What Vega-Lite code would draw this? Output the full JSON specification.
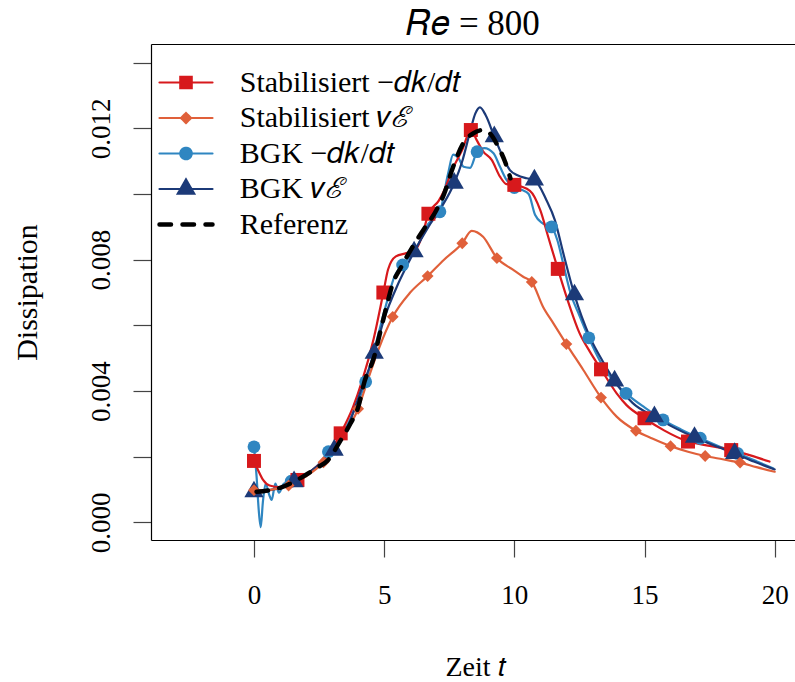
{
  "$schema": "https://vega.github.io/schema/vega-lite/v6.json",
  "width": 644,
  "height": 496,
  "autosize": {"type": "none"},
  "padding": {"left": 151, "top": 44, "right": 0, "bottom": 142},
  "background": "white",
  "config": {"view": {"stroke": null}, "font": "Liberation Serif"},
  "title": {"text": "𝑅𝑒 = 800", "font": "Liberation Serif", "fontSize": 35, "fontWeight": "normal", "anchor": "middle", "baseline": "alphabetic", "offset": 7.5, "dy": 33, "color": "black"},
  "data": {"values": [
    {"s": "B1", "t": 0, "v": 0.0023, "m": 1},
    {"s": "B1", "t": 0.1, "v": 0.0014, "m": 0},
    {"s": "B1", "t": 0.18, "v": 0.0004, "m": 0},
    {"s": "B1", "t": 0.26, "v": -0.00015, "m": 0},
    {"s": "B1", "t": 0.34, "v": 0.0006, "m": 0},
    {"s": "B1", "t": 0.45, "v": 0.00118, "m": 0},
    {"s": "B1", "t": 0.58, "v": 0.00085, "m": 0},
    {"s": "B1", "t": 0.68, "v": 0.00068, "m": 0},
    {"s": "B1", "t": 0.82, "v": 0.00118, "m": 0},
    {"s": "B1", "t": 0.96, "v": 0.0009, "m": 0},
    {"s": "B1", "t": 1.15, "v": 0.00118, "m": 0},
    {"s": "B1", "t": 1.43, "v": 0.00125, "m": 1},
    {"s": "B1", "t": 1.9, "v": 0.0014, "m": 0},
    {"s": "B1", "t": 2.4, "v": 0.0017, "m": 0},
    {"s": "B1", "t": 2.86, "v": 0.00215, "m": 1},
    {"s": "B1", "t": 3.4, "v": 0.0027, "m": 0},
    {"s": "B1", "t": 3.9, "v": 0.0035, "m": 0},
    {"s": "B1", "t": 4.29, "v": 0.00428, "m": 1},
    {"s": "B1", "t": 4.7, "v": 0.0055, "m": 0},
    {"s": "B1", "t": 5.1, "v": 0.0067, "m": 0},
    {"s": "B1", "t": 5.4, "v": 0.0075, "m": 0},
    {"s": "B1", "t": 5.71, "v": 0.00784, "m": 1},
    {"s": "B1", "t": 6.2, "v": 0.0083, "m": 0},
    {"s": "B1", "t": 6.7, "v": 0.0091, "m": 0},
    {"s": "B1", "t": 7.14, "v": 0.00946, "m": 1},
    {"s": "B1", "t": 7.45, "v": 0.0106, "m": 0},
    {"s": "B1", "t": 7.65, "v": 0.0112, "m": 0},
    {"s": "B1", "t": 7.85, "v": 0.0111, "m": 0},
    {"s": "B1", "t": 8.05, "v": 0.01083, "m": 0},
    {"s": "B1", "t": 8.3, "v": 0.0108, "m": 0},
    {"s": "B1", "t": 8.57, "v": 0.01129, "m": 1},
    {"s": "B1", "t": 8.85, "v": 0.0114, "m": 0},
    {"s": "B1", "t": 9.2, "v": 0.01124, "m": 0},
    {"s": "B1", "t": 9.45, "v": 0.01083, "m": 0},
    {"s": "B1", "t": 9.7, "v": 0.01043, "m": 0},
    {"s": "B1", "t": 10.0, "v": 0.0102, "m": 1},
    {"s": "B1", "t": 10.3, "v": 0.01012, "m": 0},
    {"s": "B1", "t": 10.55, "v": 0.01, "m": 0},
    {"s": "B1", "t": 10.8, "v": 0.00936, "m": 0},
    {"s": "B1", "t": 11.1, "v": 0.0091, "m": 0},
    {"s": "B1", "t": 11.43, "v": 0.009, "m": 1},
    {"s": "B1", "t": 11.65, "v": 0.0086, "m": 0},
    {"s": "B1", "t": 11.9, "v": 0.0078, "m": 0},
    {"s": "B1", "t": 12.15, "v": 0.007, "m": 0},
    {"s": "B1", "t": 12.5, "v": 0.0063, "m": 0},
    {"s": "B1", "t": 12.86, "v": 0.00562, "m": 1},
    {"s": "B1", "t": 13.3, "v": 0.0049, "m": 0},
    {"s": "B1", "t": 13.8, "v": 0.0043, "m": 0},
    {"s": "B1", "t": 14.29, "v": 0.00393, "m": 1},
    {"s": "B1", "t": 15.0, "v": 0.0035, "m": 0},
    {"s": "B1", "t": 15.71, "v": 0.00312, "m": 1},
    {"s": "B1", "t": 16.4, "v": 0.00283, "m": 0},
    {"s": "B1", "t": 17.14, "v": 0.00256, "m": 1},
    {"s": "B1", "t": 17.85, "v": 0.00232, "m": 0},
    {"s": "B1", "t": 18.57, "v": 0.0021, "m": 1},
    {"s": "B1", "t": 19.3, "v": 0.00186, "m": 0},
    {"s": "B1", "t": 19.95, "v": 0.00164, "m": 0},

    {"s": "S1", "t": 0, "v": 0.00187, "m": 1},
    {"s": "S1", "t": 0.15, "v": 0.0016, "m": 0},
    {"s": "S1", "t": 0.35, "v": 0.00129, "m": 0},
    {"s": "S1", "t": 0.6, "v": 0.00112, "m": 0},
    {"s": "S1", "t": 1.0, "v": 0.00107, "m": 0},
    {"s": "S1", "t": 1.3, "v": 0.00113, "m": 0},
    {"s": "S1", "t": 1.67, "v": 0.00129, "m": 1},
    {"s": "S1", "t": 2.3, "v": 0.00163, "m": 0},
    {"s": "S1", "t": 2.9, "v": 0.0021, "m": 0},
    {"s": "S1", "t": 3.33, "v": 0.00271, "m": 1},
    {"s": "S1", "t": 3.8, "v": 0.0035, "m": 0},
    {"s": "S1", "t": 4.15, "v": 0.0043, "m": 0},
    {"s": "S1", "t": 4.6, "v": 0.0056, "m": 0},
    {"s": "S1", "t": 4.97, "v": 0.007, "m": 1},
    {"s": "S1", "t": 5.15, "v": 0.0077, "m": 0},
    {"s": "S1", "t": 5.45, "v": 0.0081, "m": 0},
    {"s": "S1", "t": 5.85, "v": 0.0082, "m": 0},
    {"s": "S1", "t": 6.2, "v": 0.0083, "m": 0},
    {"s": "S1", "t": 6.45, "v": 0.0087, "m": 0},
    {"s": "S1", "t": 6.7, "v": 0.0094, "m": 1},
    {"s": "S1", "t": 7.1, "v": 0.0098, "m": 0},
    {"s": "S1", "t": 7.3, "v": 0.0101, "m": 0},
    {"s": "S1", "t": 7.65, "v": 0.0108, "m": 0},
    {"s": "S1", "t": 8.0, "v": 0.01135, "m": 0},
    {"s": "S1", "t": 8.33, "v": 0.01195, "m": 1},
    {"s": "S1", "t": 8.55, "v": 0.01165, "m": 0},
    {"s": "S1", "t": 8.8, "v": 0.0113, "m": 0},
    {"s": "S1", "t": 9.13, "v": 0.01104, "m": 0},
    {"s": "S1", "t": 9.45, "v": 0.01053, "m": 0},
    {"s": "S1", "t": 9.7, "v": 0.0103, "m": 0},
    {"s": "S1", "t": 10.0, "v": 0.01028, "m": 1},
    {"s": "S1", "t": 10.6, "v": 0.0101, "m": 0},
    {"s": "S1", "t": 11.0, "v": 0.0095, "m": 0},
    {"s": "S1", "t": 11.3, "v": 0.0087, "m": 0},
    {"s": "S1", "t": 11.67, "v": 0.00772, "m": 1},
    {"s": "S1", "t": 12.13, "v": 0.00657, "m": 0},
    {"s": "S1", "t": 12.5, "v": 0.00577, "m": 0},
    {"s": "S1", "t": 12.9, "v": 0.0052, "m": 0},
    {"s": "S1", "t": 13.33, "v": 0.00466, "m": 1},
    {"s": "S1", "t": 13.93, "v": 0.00393, "m": 0},
    {"s": "S1", "t": 14.31, "v": 0.00357, "m": 0},
    {"s": "S1", "t": 15.0, "v": 0.00317, "m": 1},
    {"s": "S1", "t": 15.75, "v": 0.0028, "m": 0},
    {"s": "S1", "t": 16.67, "v": 0.00246, "m": 1},
    {"s": "S1", "t": 17.5, "v": 0.00233, "m": 0},
    {"s": "S1", "t": 18.33, "v": 0.0022, "m": 1},
    {"s": "S1", "t": 19.1, "v": 0.00203, "m": 0},
    {"s": "S1", "t": 19.8, "v": 0.00185, "m": 0},

    {"s": "B2", "t": 0, "v": 0.00093, "m": 1},
    {"s": "B2", "t": 0.5, "v": 0.00097, "m": 0},
    {"s": "B2", "t": 1.0, "v": 0.00105, "m": 0},
    {"s": "B2", "t": 1.54, "v": 0.00124, "m": 1},
    {"s": "B2", "t": 2.3, "v": 0.00163, "m": 0},
    {"s": "B2", "t": 3.08, "v": 0.0022, "m": 1},
    {"s": "B2", "t": 3.6, "v": 0.0029, "m": 0},
    {"s": "B2", "t": 4.1, "v": 0.004, "m": 0},
    {"s": "B2", "t": 4.62, "v": 0.00515, "m": 1},
    {"s": "B2", "t": 5.0, "v": 0.0062, "m": 0},
    {"s": "B2", "t": 5.5, "v": 0.0072, "m": 0},
    {"s": "B2", "t": 5.8, "v": 0.0077, "m": 0},
    {"s": "B2", "t": 6.15, "v": 0.00824, "m": 1},
    {"s": "B2", "t": 6.7, "v": 0.009, "m": 0},
    {"s": "B2", "t": 7.2, "v": 0.0096, "m": 0},
    {"s": "B2", "t": 7.69, "v": 0.01033, "m": 1},
    {"s": "B2", "t": 8.0, "v": 0.011, "m": 0},
    {"s": "B2", "t": 8.3, "v": 0.0119, "m": 0},
    {"s": "B2", "t": 8.5, "v": 0.01245, "m": 0},
    {"s": "B2", "t": 8.68, "v": 0.01264, "m": 0},
    {"s": "B2", "t": 8.9, "v": 0.0124, "m": 0},
    {"s": "B2", "t": 9.23, "v": 0.01175, "m": 1},
    {"s": "B2", "t": 9.5, "v": 0.01124, "m": 0},
    {"s": "B2", "t": 9.83, "v": 0.01073, "m": 0},
    {"s": "B2", "t": 10.1, "v": 0.01058, "m": 0},
    {"s": "B2", "t": 10.47, "v": 0.01048, "m": 0},
    {"s": "B2", "t": 10.77, "v": 0.01043, "m": 1},
    {"s": "B2", "t": 11.23, "v": 0.00982, "m": 0},
    {"s": "B2", "t": 11.56, "v": 0.0092, "m": 0},
    {"s": "B2", "t": 11.88, "v": 0.0082, "m": 0},
    {"s": "B2", "t": 12.31, "v": 0.00693, "m": 1},
    {"s": "B2", "t": 12.9, "v": 0.00565, "m": 0},
    {"s": "B2", "t": 13.4, "v": 0.0049, "m": 0},
    {"s": "B2", "t": 13.85, "v": 0.00431, "m": 1},
    {"s": "B2", "t": 14.55, "v": 0.00363, "m": 0},
    {"s": "B2", "t": 15.38, "v": 0.00322, "m": 1},
    {"s": "B2", "t": 16.1, "v": 0.0029, "m": 0},
    {"s": "B2", "t": 16.92, "v": 0.00259, "m": 1},
    {"s": "B2", "t": 17.7, "v": 0.00233, "m": 0},
    {"s": "B2", "t": 18.46, "v": 0.0021, "m": 1},
    {"s": "B2", "t": 19.2, "v": 0.00185, "m": 0},
    {"s": "B2", "t": 20.0, "v": 0.00161, "m": 0},

    {"s": "S2", "t": 0, "v": 0.00098, "m": 1},
    {"s": "S2", "t": 0.5, "v": 0.00098, "m": 0},
    {"s": "S2", "t": 0.9, "v": 0.00103, "m": 0},
    {"s": "S2", "t": 1.33, "v": 0.00112, "m": 1},
    {"s": "S2", "t": 2.0, "v": 0.0014, "m": 0},
    {"s": "S2", "t": 2.67, "v": 0.00183, "m": 1},
    {"s": "S2", "t": 3.3, "v": 0.0025, "m": 0},
    {"s": "S2", "t": 4.0, "v": 0.00346, "m": 1},
    {"s": "S2", "t": 4.4, "v": 0.0044, "m": 0},
    {"s": "S2", "t": 4.8, "v": 0.0053, "m": 0},
    {"s": "S2", "t": 5.33, "v": 0.00626, "m": 1},
    {"s": "S2", "t": 6.0, "v": 0.007, "m": 0},
    {"s": "S2", "t": 6.67, "v": 0.0075, "m": 1},
    {"s": "S2", "t": 7.3, "v": 0.008, "m": 0},
    {"s": "S2", "t": 8.0, "v": 0.0085, "m": 1},
    {"s": "S2", "t": 8.36, "v": 0.00888, "m": 0},
    {"s": "S2", "t": 8.8, "v": 0.0087, "m": 0},
    {"s": "S2", "t": 9.33, "v": 0.00805, "m": 1},
    {"s": "S2", "t": 9.96, "v": 0.00769, "m": 0},
    {"s": "S2", "t": 10.34, "v": 0.00748, "m": 0},
    {"s": "S2", "t": 10.67, "v": 0.00732, "m": 1},
    {"s": "S2", "t": 11.1, "v": 0.00657, "m": 0},
    {"s": "S2", "t": 11.5, "v": 0.00606, "m": 0},
    {"s": "S2", "t": 12.0, "v": 0.00543, "m": 1},
    {"s": "S2", "t": 12.65, "v": 0.00464, "m": 0},
    {"s": "S2", "t": 13.33, "v": 0.0038, "m": 1},
    {"s": "S2", "t": 13.93, "v": 0.00322, "m": 0},
    {"s": "S2", "t": 14.67, "v": 0.00279, "m": 1},
    {"s": "S2", "t": 15.3, "v": 0.00255, "m": 0},
    {"s": "S2", "t": 16.0, "v": 0.00232, "m": 1},
    {"s": "S2", "t": 16.67, "v": 0.00215, "m": 0},
    {"s": "S2", "t": 17.33, "v": 0.00202, "m": 1},
    {"s": "S2", "t": 18.0, "v": 0.00192, "m": 0},
    {"s": "S2", "t": 18.67, "v": 0.00182, "m": 1},
    {"s": "S2", "t": 19.3, "v": 0.00168, "m": 0},
    {"s": "S2", "t": 20.0, "v": 0.00154, "m": 0},

    {"s": "R", "t": 0.1, "v": 0.00093, "m": 0},
    {"s": "R", "t": 0.6, "v": 0.00098, "m": 0},
    {"s": "R", "t": 1.0, "v": 0.00105, "m": 0},
    {"s": "R", "t": 1.5, "v": 0.00122, "m": 0},
    {"s": "R", "t": 2.0, "v": 0.00145, "m": 0},
    {"s": "R", "t": 2.4, "v": 0.00165, "m": 0},
    {"s": "R", "t": 2.85, "v": 0.0019, "m": 0},
    {"s": "R", "t": 3.3, "v": 0.00246, "m": 0},
    {"s": "R", "t": 3.7, "v": 0.003, "m": 0},
    {"s": "R", "t": 4.0, "v": 0.0035, "m": 0},
    {"s": "R", "t": 4.25, "v": 0.0043, "m": 0},
    {"s": "R", "t": 4.6, "v": 0.005, "m": 0},
    {"s": "R", "t": 4.85, "v": 0.0058, "m": 0},
    {"s": "R", "t": 5.1, "v": 0.0066, "m": 0},
    {"s": "R", "t": 5.3, "v": 0.0072, "m": 0},
    {"s": "R", "t": 5.67, "v": 0.0078, "m": 0},
    {"s": "R", "t": 6.1, "v": 0.0084, "m": 0},
    {"s": "R", "t": 6.5, "v": 0.0089, "m": 0},
    {"s": "R", "t": 7.0, "v": 0.0095, "m": 0},
    {"s": "R", "t": 7.3, "v": 0.01, "m": 0},
    {"s": "R", "t": 7.65, "v": 0.01083, "m": 0},
    {"s": "R", "t": 8.04, "v": 0.01155, "m": 0},
    {"s": "R", "t": 8.42, "v": 0.01185, "m": 0},
    {"s": "R", "t": 8.8, "v": 0.01195, "m": 0},
    {"s": "R", "t": 9.06, "v": 0.01185, "m": 0},
    {"s": "R", "t": 9.38, "v": 0.01144, "m": 0},
    {"s": "R", "t": 9.64, "v": 0.01099, "m": 0},
    {"s": "R", "t": 9.85, "v": 0.01048, "m": 0}
  ]},
  "resolve": {"axis": {"x": "independent", "y": "independent"}},
  "layer": [
    {
      "transform": [{"filter": "datum.s !== 'R'"}],
      "mark": {"type": "line", "strokeWidth": 2.2, "interpolate": "monotone", "strokeCap": "round", "strokeJoin": "round"},
      "encoding": {
        "x": {"field": "t", "type": "quantitative",
          "scale": {"domain": [-3.955, 20.78], "nice": false, "zero": false},
          "axis": {"orient": "bottom", "values": [0, 5, 10, 15, 20], "tickSize": 17, "tickColor": "#444", "tickWidth": 1.2,
            "domain": true, "domainColor": "black", "domainWidth": 1.2, "grid": false,
            "labelFont": "Liberation Serif", "labelFontSize": 27, "labelColor": "black", "labelPadding": 25.5, "labelFlush": false, "labelOverlap": false,
            "title": "Zeit 𝑡", "titleFont": "Liberation Serif", "titleFontSize": 28, "titleFontWeight": "normal", "titleColor": "black",
            "titleX": 324, "titleY": 135, "titleAlign": "center", "titleBaseline": "alphabetic"}},
        "y": {"field": "v", "type": "quantitative",
          "scale": {"domain": [-0.000539, 0.014571], "nice": false, "zero": false},
          "axis": {"orient": "left", "values": [0, 0.002, 0.004, 0.006, 0.008, 0.01, 0.012, 0.014], "tickSize": 18, "tickColor": "#444", "tickWidth": 1.2,
            "domain": true, "domainColor": "black", "domainWidth": 1.2, "grid": false,
            "labelExpr": "abs(datum.value / 0.004 - round(datum.value / 0.004)) < 0.001 ? format(datum.value, '.3f') : ''",
            "labelFont": "Liberation Serif", "labelFontSize": 27, "labelColor": "black", "labelAngle": 270, "labelAlign": "center", "labelBaseline": "alphabetic",
            "labelPadding": 24, "labelOverlap": false, "labelFlush": false,
            "title": "Dissipation", "titleFont": "Liberation Serif", "titleFontSize": 30, "titleFontWeight": "normal", "titleColor": "black",
            "titleAngle": 270, "titleX": -115, "titleY": 248, "titleAlign": "center", "titleBaseline": "alphabetic"}},
        "color": {"field": "s", "type": "nominal",
          "scale": {"domain": ["S1", "S2", "B1", "B2", "R"], "range": ["#D7191C", "#E0603A", "#2F86C1", "#1C3A78", "#000000"]},
          "legend": {"orient": "none", "legendX": 20, "legendY": 23.5, "title": null, "padding": 0,
            "labelFont": "Liberation Serif", "labelFontSize": 30, "labelColor": "black", "labelLimit": 600, "labelOffset": 38.7,
            "labelExpr": "{'S1': 'Stabilisiert −𝑑𝑘/𝑑𝑡', 'S2': 'Stabilisiert 𝜈ℰ', 'B1': 'BGK −𝑑𝑘/𝑑𝑡', 'B2': 'BGK 𝜈ℰ', 'R': 'Referenz'}[datum.label]",
            "symbolSize": 400, "rowPadding": 5.5,
            "encode": {"symbols": {"update": {
              "shape": {"signal": "{'S1': 'M-2.65,0H2.65M-0.57,-0.57H0.57V0.57H-0.57Z', 'S2': 'M-2.65,0H2.65M0,-0.5L0.5,0L0,0.5L-0.5,0Z', 'B1': 'M-2.65,0H2.65M0.57,0A0.57,0.57,0,1,1,-0.57,0A0.57,0.57,0,1,1,0.57,0Z', 'B2': 'M-2.65,0H2.65M0,-0.95L0.82,0.47L-0.82,0.47Z', 'R': 'M-2.65,0H2.65'}[datum.value]"},
              "fill": {"scale": "color", "field": "value"},
              "stroke": {"scale": "color", "field": "value"},
              "strokeWidth": {"signal": "datum.value === 'R' ? 4.5 : 2.2"},
              "strokeDash": {"signal": "datum.value === 'R' ? [11.5, 11.5] : [1, 0]"},
              "strokeCap": {"value": "round"},
              "size": {"value": 400},
              "opacity": {"value": 1}
            }}}}}
      }
    },
    {
      "transform": [{"filter": "datum.m === 1"}],
      "mark": {"type": "point", "filled": true, "opacity": 1},
      "encoding": {
        "x": {"field": "t", "type": "quantitative",
          "axis": {"orient": "top", "ticks": false, "labels": false, "title": null, "domain": true, "domainColor": "black", "domainWidth": 1.2, "grid": false}},
        "y": {"field": "v", "type": "quantitative", "axis": null},
        "color": {"field": "s", "type": "nominal", "legend": null},
        "shape": {"field": "s", "type": "nominal", "legend": null,
          "scale": {"domain": ["S1", "S2", "B1", "B2"], "range": ["square", "diamond", "circle", "M0,-1.155L1,0.577L-1,0.577Z"]}},
        "size": {"field": "s", "type": "nominal", "legend": null,
          "scale": {"type": "ordinal", "domain": ["S1", "S2", "B1", "B2"], "range": [196, 140, 165, 370]}}
      }
    },
    {
      "transform": [{"filter": "datum.s === 'R'"}],
      "mark": {"type": "line", "strokeWidth": 4.5, "strokeDash": [11.5, 11.5], "strokeCap": "round", "interpolate": "monotone"},
      "encoding": {
        "x": {"field": "t", "type": "quantitative", "axis": null},
        "y": {"field": "v", "type": "quantitative", "axis": null},
        "color": {"field": "s", "type": "nominal", "legend": null}
      }
    }
  ]
}
